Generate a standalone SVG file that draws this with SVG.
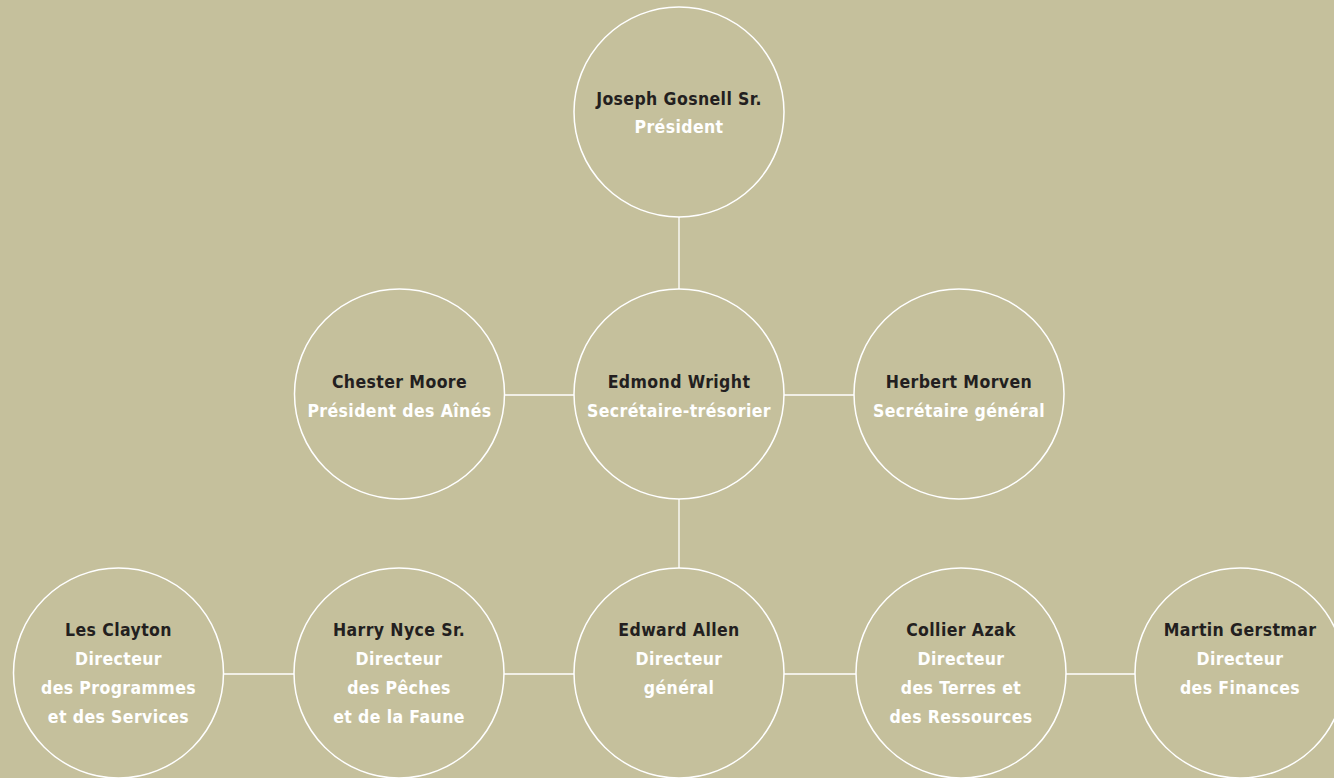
<svg xmlns="http://www.w3.org/2000/svg" width="1334" height="778" viewBox="0 0 1334 778">
  <style>
    .node circle { fill: none; stroke: #ffffff; stroke-width: 1.5; }
    .conn line { stroke: #ffffff; stroke-width: 1.3; }
    text { font-family: "DejaVu Sans Condensed", "Liberation Sans Narrow", "DejaVu Sans", sans-serif; font-stretch: condensed; font-weight: bold; font-size: 17.5px; letter-spacing: 0.4px; text-anchor: middle; }
    .name { fill: #231f20; }
    .title { fill: #ffffff; }
  </style>
  <rect width="1334" height="778" fill="#c5c09c"/>
  <g id="connectors" class="conn">
    <line x1="679" y1="217" x2="679" y2="289"/>
    <line x1="505" y1="395" x2="574" y2="395"/>
    <line x1="784" y1="395" x2="854" y2="395"/>
    <line x1="679" y1="499" x2="679" y2="568"/>
    <line x1="224" y1="674" x2="294" y2="674"/>
    <line x1="504" y1="674" x2="574" y2="674"/>
    <line x1="784" y1="674" x2="856" y2="674"/>
    <line x1="1066" y1="674" x2="1135" y2="674"/>
  </g>
  <g id="node-gosnell" class="node">
    <circle cx="679" cy="112" r="105"/>
    <text x="679" y="105" class="name">Joseph Gosnell Sr.</text>
    <text x="679" y="133" class="title">Président</text>
  </g>
  <g id="node-moore" class="node">
    <circle cx="399.5" cy="394" r="105"/>
    <text x="399.5" y="388" class="name">Chester Moore</text>
    <text x="399.5" y="417" class="title">Président des Aînés</text>
  </g>
  <g id="node-wright" class="node">
    <circle cx="679" cy="394" r="105"/>
    <text x="679" y="388" class="name">Edmond Wright</text>
    <text x="679" y="417" class="title">Secrétaire-trésorier</text>
  </g>
  <g id="node-morven" class="node">
    <circle cx="959" cy="394" r="105"/>
    <text x="959" y="388" class="name">Herbert Morven</text>
    <text x="959" y="417" class="title">Secrétaire général</text>
  </g>
  <g id="node-clayton" class="node">
    <circle cx="118.5" cy="673" r="105"/>
    <text x="118.5" y="636" class="name">Les Clayton</text>
    <text x="118.5" y="665" class="title">Directeur</text>
    <text x="118.5" y="694" class="title">des Programmes</text>
    <text x="118.5" y="723" class="title">et des Services</text>
  </g>
  <g id="node-nyce" class="node">
    <circle cx="399" cy="673" r="105"/>
    <text x="399" y="636" class="name">Harry Nyce Sr.</text>
    <text x="399" y="665" class="title">Directeur</text>
    <text x="399" y="694" class="title">des Pêches</text>
    <text x="399" y="723" class="title">et de la Faune</text>
  </g>
  <g id="node-allen" class="node">
    <circle cx="679" cy="673" r="105"/>
    <text x="679" y="636" class="name">Edward Allen</text>
    <text x="679" y="665" class="title">Directeur</text>
    <text x="679" y="694" class="title">général</text>
  </g>
  <g id="node-azak" class="node">
    <circle cx="961" cy="673" r="105"/>
    <text x="961" y="636" class="name">Collier Azak</text>
    <text x="961" y="665" class="title">Directeur</text>
    <text x="961" y="694" class="title">des Terres et</text>
    <text x="961" y="723" class="title">des Ressources</text>
  </g>
  <g id="node-gerstmar" class="node">
    <circle cx="1240" cy="673" r="105"/>
    <text x="1240" y="636" class="name">Martin Gerstmar</text>
    <text x="1240" y="665" class="title">Directeur</text>
    <text x="1240" y="694" class="title">des Finances</text>
  </g>
</svg>
